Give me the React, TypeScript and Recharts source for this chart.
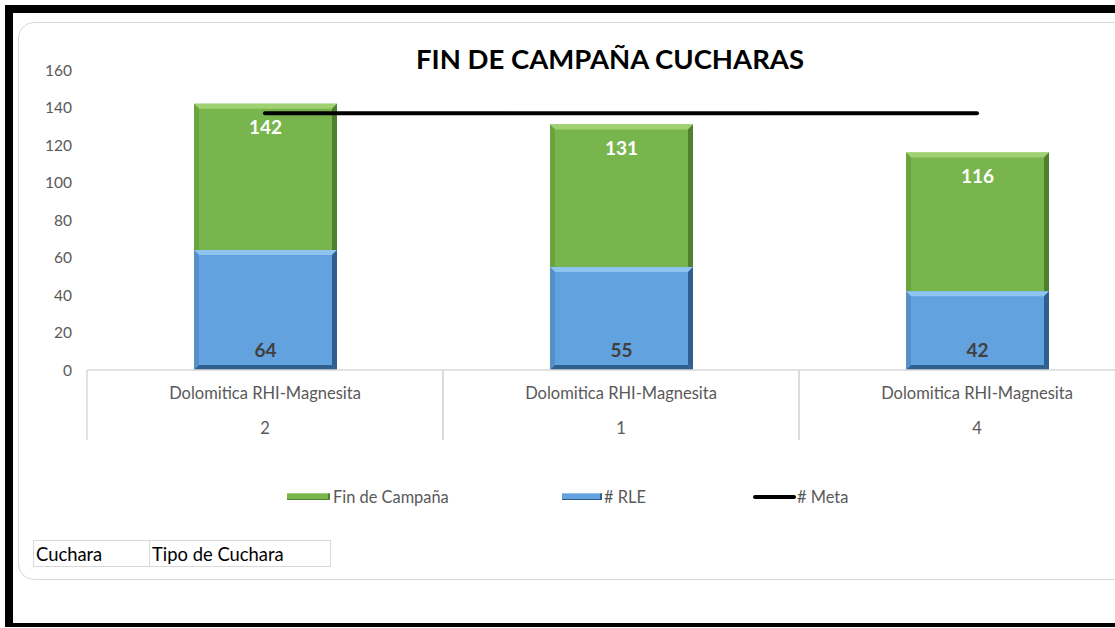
import React from "react";
import { Bar, ComposedChart, LabelList, Line, XAxis, YAxis } from "recharts";

const cucharas = ["2", "1", "4"];
const tipos = ["Dolomitica RHI-Magnesita", "Dolomitica RHI-Magnesita", "Dolomitica RHI-Magnesita"];
const finCampana = [142, 131, 116];
const rle = [64, 55, 42];
const meta = [137, 137, 137];
const yTicks = [0, 20, 40, 60, 80, 100, 120, 140, 160];

const data = cucharas.map((c, i) => ({
  key: `${tipos[i]}|${c}`,
  tipo: tipos[i],
  cuchara: c,
  fin: finCampana[i],
  rle: rle[i],
  meta: meta[i],
}));

const FONT = "Lato, 'Open Sans', sans-serif";
const GREY = "#595959";
const GRID = "#d9d9d9";

const GREEN = { fill: "#78b54c", light: "#9fd172", dark: "#4f7f2f", side: "#6aa43f" };
const BLUE = { fill: "#62a3df", light: "#8fc4f0", dark: "#2f5f8f", side: "#5690c8" };

function bevel(colors: typeof GREEN) {
  return (props: any) => {
    const { x, y, width, height } = props;
    if (!height || height <= 0) return null;
    const b = 5;
    const x2 = x + width;
    const y2 = y + height;
    return (
      <g>
        <rect x={x} y={y} width={width} height={height} fill={colors.fill} />
        <polygon points={`${x},${y} ${x2},${y} ${x2 - b},${y + b} ${x + b},${y + b}`} fill={colors.light} />
        <polygon points={`${x},${y} ${x + b},${y + b} ${x + b},${y2 - b} ${x},${y2}`} fill={colors.side} />
        <polygon points={`${x2},${y} ${x2},${y2} ${x2 - b},${y2 - b} ${x2 - b},${y + b}`} fill={colors.dark} />
        <polygon points={`${x},${y2} ${x2},${y2} ${x2 - b},${y2 - b} ${x + b},${y2 - b}`} fill={colors.dark} />
      </g>
    );
  };
}

function CategoryTick(props: any) {
  const { x, y, payload, index } = props;
  const item = data[index] ?? data[0];
  const half = payload && payload.offset ? payload.offset : 178;
  return (
    <g>
      <line x1={x - half} x2={x - half} y1={y} y2={y + 70} stroke={GRID} strokeWidth={1.5} />
      <line x1={x + half} x2={x + half} y1={y} y2={y + 70} stroke={GRID} strokeWidth={1.5} />
      <text x={x} y={y + 23} textAnchor="middle" dominantBaseline="central" fill={GREY} fontSize={16.5} fontFamily={FONT}>
        {item.tipo}
      </text>
      <text x={x} y={y + 58} textAnchor="middle" dominantBaseline="central" fill={GREY} fontSize={16.5} fontFamily={FONT}>
        {item.cuchara}
      </text>
    </g>
  );
}

export default function App() {
  return (
    <div
      style={{
        position: "fixed",
        left: 0,
        top: 0,
        width: 1115,
        height: 628,
        overflow: "hidden",
        background: "#fff",
        fontFamily: FONT,
      }}
    >
      {/* outer black frame */}
      <div
        style={{
          position: "absolute",
          left: 5,
          top: 5,
          width: 1200,
          height: 610,
          borderTop: "8px solid #000",
          borderLeft: "8px solid #000",
          borderBottom: "4px solid #000",
        }}
      />
      {/* chart panel */}
      <div
        style={{
          position: "absolute",
          left: 18,
          top: 22,
          width: 1200,
          height: 556,
          border: `1.5px solid ${GRID}`,
          borderRadius: 16,
        }}
      />
      <div
        style={{
          position: "absolute",
          left: 0,
          top: 42,
          width: 1220,
          textAlign: "center",
          fontSize: 27.5,
          fontWeight: 700,
          color: "#000",
        }}
      >
        FIN DE CAMPAÑA CUCHARAS
      </div>

      <div style={{ position: "absolute", left: 0, top: 0 }}>
        <ComposedChart width={1200} height={460} data={data} margin={{ top: 70, right: 45, bottom: 0, left: 0 }}>
          <YAxis
            domain={[0, 160]}
            ticks={yTicks}
            width={87}
            axisLine={false}
            tickLine={false}
            tickSize={0}
            tickMargin={15}
            tick={{ fill: GREY, fontSize: 15.5, fontFamily: FONT }}
          />
          <XAxis
            xAxisId="main"
            dataKey="key"
            height={90}
            axisLine={{ stroke: GRID, strokeWidth: 1.5 }}
            tickLine={false}
            tickSize={0}
            tickMargin={0}
            interval={0}
            tick={<CategoryTick />}
          />
          <XAxis xAxisId="over" dataKey="key" hide />
          <Bar
            xAxisId="main"
            dataKey="fin"
            name="Fin de Campaña"
            barSize={143}
            fill={GREEN.fill}
            shape={bevel(GREEN)}
            isAnimationActive={false}
          >
            <LabelList
              dataKey="fin"
              position="insideTop"
              offset={17}
              fill="#fff"
              fontSize={19}
              fontWeight={700}
              fontFamily={FONT}
            />
          </Bar>
          <Bar
            xAxisId="over"
            dataKey="rle"
            name="# RLE"
            barSize={143}
            fill={BLUE.fill}
            shape={bevel(BLUE)}
            isAnimationActive={false}
          >
            <LabelList
              dataKey="rle"
              position="insideBottom"
              offset={13}
              fill="#404040"
              fontSize={19}
              fontWeight={700}
              fontFamily={FONT}
            />
          </Bar>
          <Line
            xAxisId="main"
            dataKey="meta"
            name="# Meta"
            stroke="#000"
            strokeWidth={4}
            strokeLinecap="round"
            dot={false}
            activeDot={false}
            isAnimationActive={false}
          />
        </ComposedChart>
      </div>

      {/* legend */}
      <div style={{ position: "absolute", top: 487, left: 0, fontSize: 16.4, color: GREY }}>
        <div style={{ position: "absolute", left: 287, display: "flex", alignItems: "center", whiteSpace: "nowrap" }}>
          <span style={{ width: 43, height: 7, background: GREEN.fill, borderTop: `1px solid ${GREEN.light}`, borderBottom: `1px solid ${GREEN.dark}`, borderRight: `2px solid ${GREEN.dark}`, boxSizing: "border-box", marginRight: 3 }} />
          Fin de Campaña
        </div>
        <div style={{ position: "absolute", left: 562, display: "flex", alignItems: "center", whiteSpace: "nowrap" }}>
          <span style={{ width: 40, height: 7, background: BLUE.fill, borderTop: `1px solid ${BLUE.light}`, borderBottom: `1px solid ${BLUE.dark}`, borderRight: `2px solid ${BLUE.dark}`, boxSizing: "border-box", marginRight: 2 }} />
          # RLE
        </div>
        <div style={{ position: "absolute", left: 753, display: "flex", alignItems: "center", whiteSpace: "nowrap" }}>
          <span style={{ width: 43, height: 4, background: "#000", borderRadius: 2, marginRight: 1 }} />
          # Meta
        </div>
      </div>

      {/* pivot field buttons */}
      <div style={{ position: "absolute", left: 33, top: 540, display: "flex", fontSize: 18.4, color: "#000" }}>
        <div style={{ width: 117, height: 27, border: `1px solid ${GRID}`, boxSizing: "border-box", paddingLeft: 2, lineHeight: "27px" }}>
          Cuchara
        </div>
        <div style={{ width: 181, height: 27, border: `1px solid ${GRID}`, borderLeft: "none", boxSizing: "border-box", paddingLeft: 2, lineHeight: "27px" }}>
          Tipo de Cuchara
        </div>
      </div>
    </div>
  );
}
